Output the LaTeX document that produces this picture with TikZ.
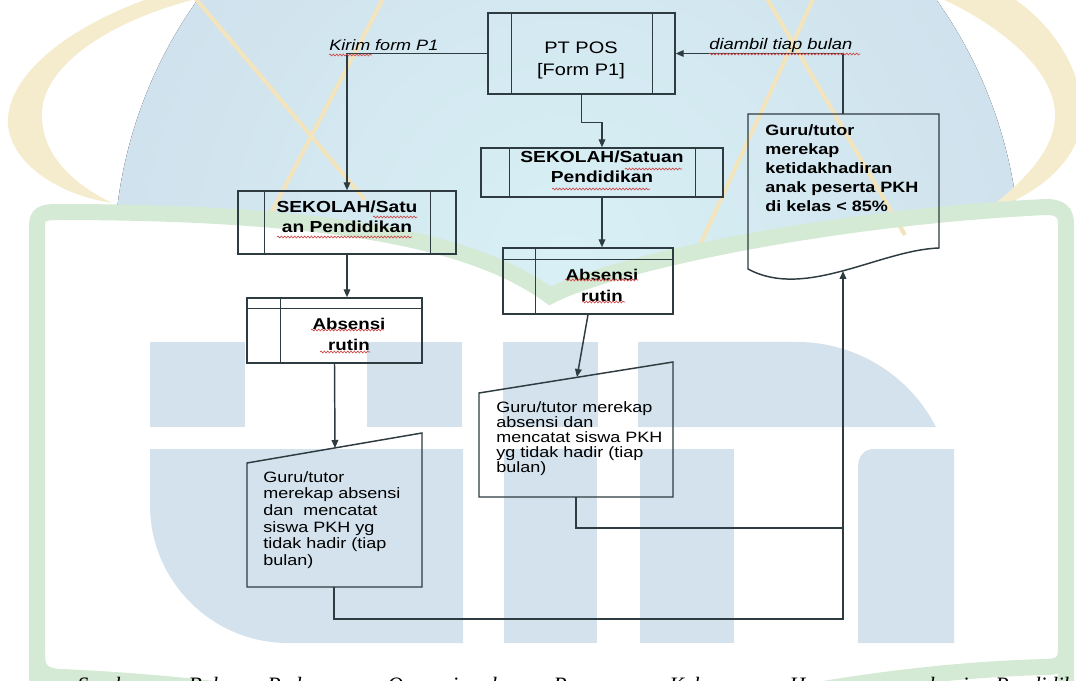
\documentclass[tikz,border=0pt]{standalone}
\usepackage{fontspec}
\setmainfont{Liberation Sans}[FakeStretch=1.2]
\newfontfamily\capfont{Liberation Serif}
\usetikzlibrary{fit,calc,arrows.meta,decorations.pathmorphing}
\definecolor{linec}{HTML}{2E3B40}
\definecolor{discin}{HTML}{D8F0F5}
\definecolor{discout}{HTML}{D0E2ED}
\definecolor{yel}{HTML}{F5EBCD}
\definecolor{yelline}{HTML}{F3E4BC}
\definecolor{grn}{HTML}{D4EAD4}
\definecolor{blk}{HTML}{D3E2EC}
\definecolor{squigc}{HTML}{D04848}
\begin{document}
\begin{tikzpicture}[x=0.75pt,y=-0.75pt,
  ln/.style={draw=linec,line width=1.1pt},
  arr/.style={ln,-{Triangle[length=6pt,width=5pt]}},
  box/.style={ln,inner sep=0pt},
  ptfont/.style={inner sep=0pt,align=center,font=\fontsize{12.5}{16.5}\selectfont},
  sfont/.style={align=center,font=\bfseries\fontsize{12}{15}\selectfont},
  afont/.style={inner sep=0pt,align=center,font=\bfseries\fontsize{11.7}{15.75}\selectfont},
  mfont/.style={inner sep=0pt,align=left,anchor=north west,font=\fontsize{11.25}{12.5}\selectfont},
  m2font/.style={inner sep=0pt,align=left,anchor=north west,font=\fontsize{11.25}{11.25}\selectfont},
  dfont/.style={inner sep=0pt,align=left,anchor=north west,font=\bfseries\fontsize{11.25}{14.25}\selectfont},
  lab/.style={inner sep=0pt,anchor=base west,font=\itshape\fontsize{11.25}{13}\selectfont},
  squig/.style={draw=squigc,line width=0.5pt,decorate,decoration={snake,amplitude=0.7pt,segment length=2.5pt}},
  capt/.style={inner sep=0pt,anchor=base west,font=\capfont\itshape\fontsize{16.5}{18}\selectfont},
  yl/.style={draw=yelline,line width=3pt}
]
\useasboundingbox (0,0) rectangle (1076,681);
\fill[white] (0,0) rectangle (1076,681);

% ---------- watermark ----------
\begin{scope}
  \clip (0,0) -- (1076,0) -- (1076,207) -- (1046,207) .. controls (820,218) and (610,265) .. (550,296)
        .. controls (480,245) and (350,212) .. (57,212) -- (0,212) -- cycle;
  \fill[inner color=discin,outer color=discout] (567,262) circle (453);
\end{scope}
\fill[yel] (150,-2) .. controls (60,30) and (5,80) .. (8,125) .. controls (12,165) and (60,195) .. (112,203)
   .. controls (75,185) and (40,155) .. (42,112) .. controls (44,65) and (110,20) .. (200,-2) -- cycle;
\fill[yel] (1013,-2) .. controls (1060,30) and (1085,80) .. (1082,120) .. controls (1078,160) and (1040,195) .. (985,212)
   .. controls (1025,180) and (1055,150) .. (1055,115) .. controls (1055,70) and (1000,25) .. (940,-2) -- cycle;
\draw[yl] (190,-8) -- (365,200);
\draw[yl] (385,-5) -- (270,215);
\draw[yl] (815,-5) -- (700,245);
\draw[yl] (765,-5) -- (905,235);
\draw[grn,line width=12pt]
  (37,690) -- (37,226) .. controls (37,214) and (43,212) .. (57,212)
  .. controls (350,212) and (480,245) .. (550,296)
  .. controls (610,265) and (820,218) .. (1046,207)
  .. controls (1060,207) and (1066,212) .. (1066,224) -- (1066,690);
\draw[grn,line width=12pt]
  (37,655) .. controls (37,670) and (43,676) .. (60,677) .. controls (250,685) and (450,720) .. (550,760)
  .. controls (650,720) and (850,672) .. (1046,667) .. controls (1060,667) and (1066,662) .. (1066,650);
% UIN blocks
\fill[blk] (150,342) rectangle (245,427);
\fill[blk] (367,342) rectangle (462,427);
\fill[blk] (150,449) -- (463,449) -- (463,643) -- (288,643) .. controls (212,643) and (150,581) .. (150,505) -- cycle;
\fill[blk] (503,342) rectangle (598,427);
\fill[blk] (504,449) rectangle (597,643);
\fill[blk] (638,342) -- (797,342) arc[start angle=-90,end angle=-27,radius=156] -- (638,427) -- cycle;
\fill[blk] (640,449) rectangle (734,643);
\fill[blk] (874,449) -- (954,449) -- (954,643) -- (858,643) -- (858,468) .. controls (858,456) and (864,449) .. (874,449) -- cycle;

% ---------- diagram ----------
\node[box,fit={(488,13) (675,94)}] (pt) {};
\node[ptfont] (ptt) at (581,60) {PT POS\\{[Form P1]}};
\draw[ln] ($(pt.north west)+(24,0)$) -- ($(pt.south west)+(24,0)$);
\draw[ln] ($(pt.north east)+(-23,0)$) -- ($(pt.south east)+(-23,0)$);

\node[box,sfont,fit={(238,191) (456,254)}] (s1) {SEKOLAH/Satu\\an Pendidikan};
\draw[ln] ($(s1.north west)+(27,0)$) -- ($(s1.south west)+(27,0)$);
\draw[ln] ($(s1.north east)+(-26,0)$) -- ($(s1.south east)+(-26,0)$);

\node[box,sfont,fit={(481,148) (723,197)}] (s2) {SEKOLAH/Satuan\\Pendidikan};
\draw[ln] ($(s2.north west)+(29,0)$) -- ($(s2.south west)+(29,0)$);
\draw[ln] ($(s2.north east)+(-28,0)$) -- ($(s2.south east)+(-28,0)$);

\node[box,fit={(247,298) (422,363)}] (a1) {};
\draw[ln] ($(a1.north west)+(0,11)$) -- ($(a1.north east)+(0,11)$);
\draw[ln] ($(a1.north west)+(34,0)$) -- ($(a1.south west)+(34,0)$);
\node[afont] (a1t) at (349,334) {Absensi\\rutin};

\node[box,fit={(503,248) (673,314)}] (a2) {};
\draw[ln] ($(a2.north west)+(0,12)$) -- ($(a2.north east)+(0,12)$);
\draw[ln] ($(a2.north west)+(33,0)$) -- ($(a2.south west)+(33,0)$);
\node[afont] (a2t) at (602,285) {Absensi\\rutin};

% manual input 1
\draw[ln] (247,463) -- (422,433) -- (422,587) -- (247,587) -- cycle;
\coordinate (m1in) at (335,448);
\coordinate (m1out) at (334,587);
\node[mfont] (m1t) at (263,471) {Guru/tutor\\merekap absensi\\dan\ \ mencatat\\siswa PKH yg\\tidak hadir (tiap\\bulan)};

% manual input 2
\draw[ln] (479,393) -- (673,362) -- (673,497) -- (479,497) -- cycle;
\coordinate (m2in) at (577,377);
\coordinate (m2out) at (576,497);
\node[m2font] (m2t) at (496,401) {Guru/tutor merekap\\absensi dan\\mencatat siswa PKH\\yg tidak hadir (tiap\\bulan)};

% document
\draw[ln] (748,114) -- (939,114) -- (939,248) .. controls (880,250) and (805,300) .. (748,269) -- cycle;
\coordinate (dtop) at (843,114);
\coordinate (dbot) at (843,271);
\coordinate (j2) at (843,528);
\node[dfont] (dt) at (765,124) {Guru/tutor\\merekap\\ketidakhadiran\\anak peserta PKH\\di kelas < 85\%};

% connectors
\draw[arr] (pt.west) -| (s1.north);
\draw[arr] (pt.south) -- ++(0,28) -| (s2.north);
\draw[arr] (s1.south) -- (s1.south |- a1.north);
\draw[arr] (s2.south) -- (s2.south |- a2.north);
\draw[arr] (a1.south) -- (m1in);
\draw[arr] (a2.south) -- (m2in);
\draw[arr] (m1out) -- ++(0,32) -| (dbot);
\draw[ln] (m2out) |- (j2);
\draw[arr] (dtop) |- (pt.east);

% labels
\node[lab] (l1) at (329,51) {Kirim form P1};
\node[lab,font=\itshape\fontsize{11.5}{13}\selectfont] (l2) at (709,50) {diambil tiap bulan};

% spell-check squiggles
\draw[squig] (329,55) -- (372,55);
\draw[squig] (709,54) -- (860,54);
\draw[squig] (373,217) -- (417,217);
\draw[squig] (277,237) -- (412,237);
\draw[squig] (625,169) -- (682,169);
\draw[squig] (552,189) -- (650,189);
\draw[squig] (311,330) -- (384,330);
\draw[squig] (320,352) -- (370,352);
\draw[squig] (565,280) -- (638,280);
\draw[squig] (582,302) -- (625,302);

% caption (cut off at the bottom, as in the reference)
\foreach \x/\w [count=\i] in {77/Sumber:,188/Buku,267/Pedoman,387/Operasional,553/Program,669/Keluarga,789/Harapan,929/bagi,995/Pendidikan}
  \node[capt] (cap\i) at (\x,692) {\w};
\end{tikzpicture}
\end{document}
